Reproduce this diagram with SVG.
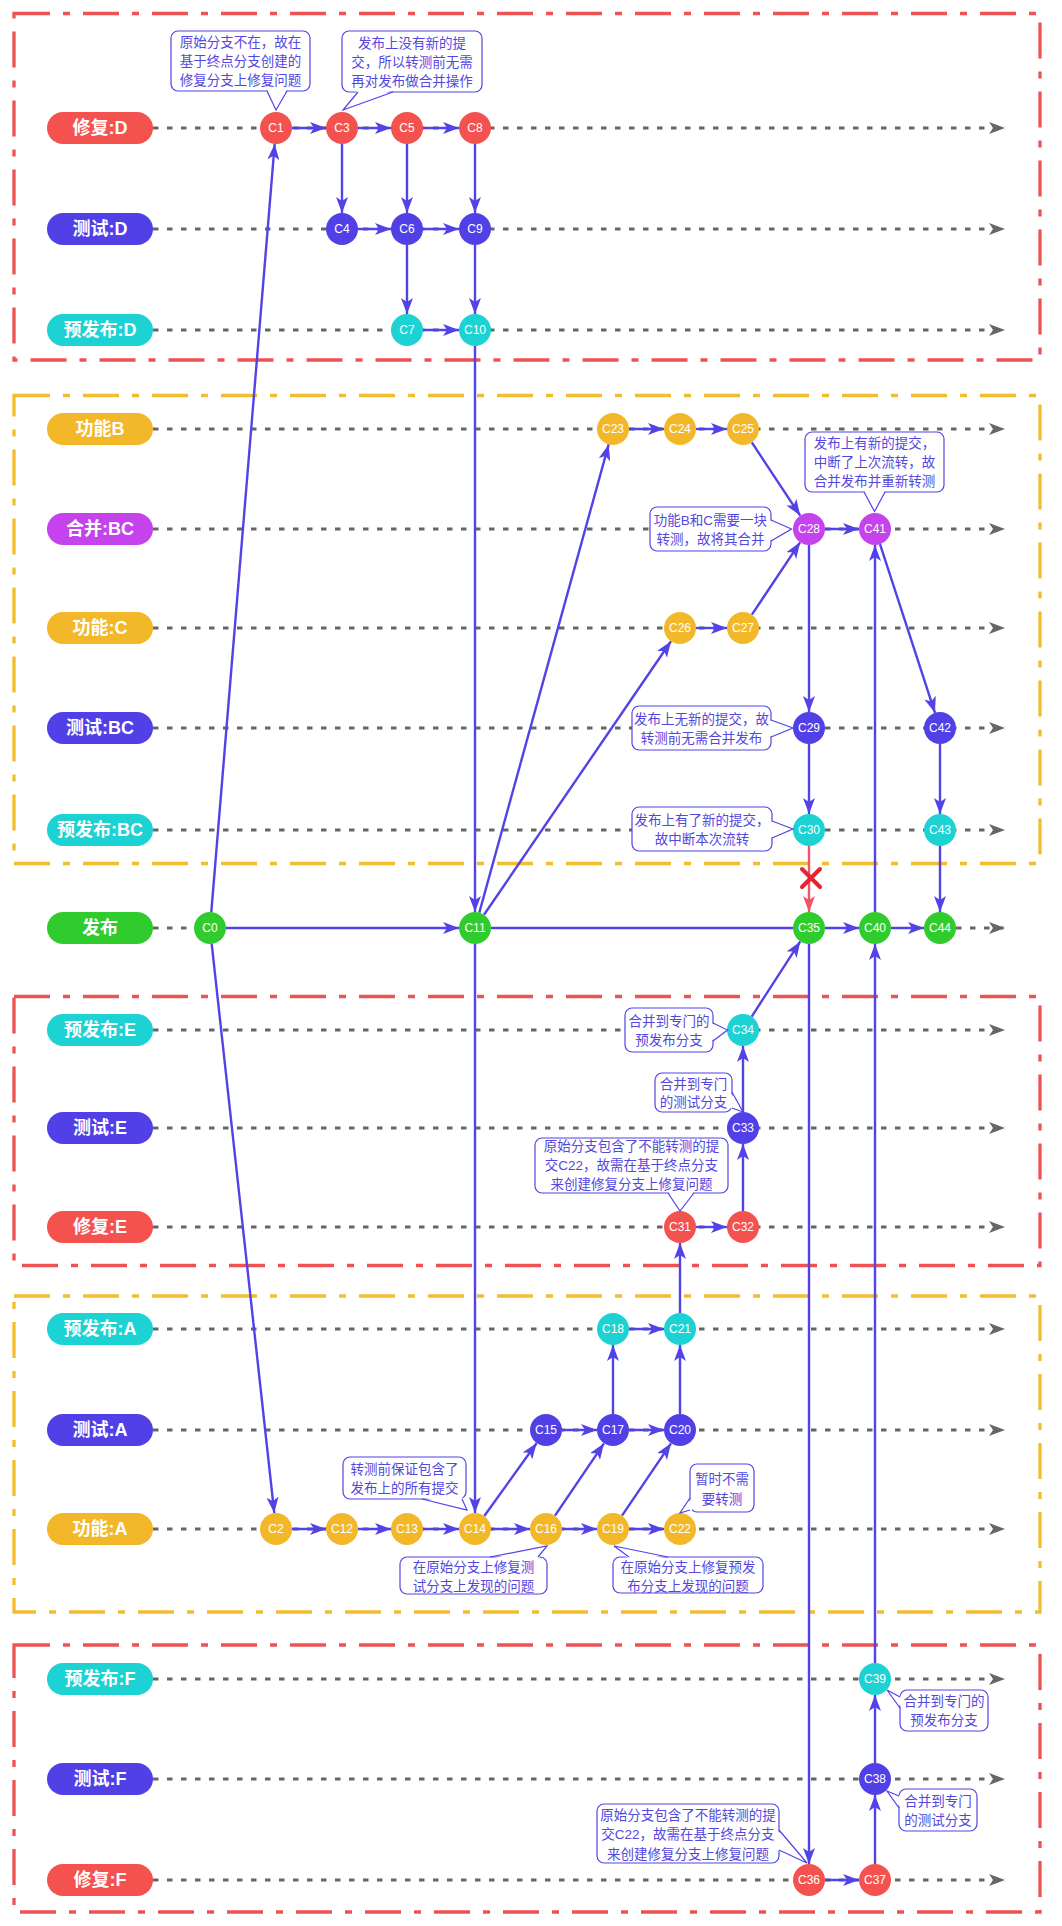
<svg xmlns="http://www.w3.org/2000/svg" width="1062" height="1926" viewBox="0 0 1062 1926">
<defs>
<marker id="a" markerUnits="userSpaceOnUse" viewBox="0 0 16 12" refX="16" refY="6" markerWidth="16" markerHeight="12" orient="auto"><path d="M0,0 L16,6 L0,12 L4,6 Z" fill="#5243E6"/></marker>
<marker id="ar" markerUnits="userSpaceOnUse" viewBox="0 0 16 12" refX="16" refY="6" markerWidth="16" markerHeight="12" orient="auto"><path d="M0,0 L16,6 L0,12 L4,6 Z" fill="#F25466"/></marker>
<marker id="g" markerUnits="userSpaceOnUse" viewBox="0 0 16 12" refX="16" refY="6" markerWidth="16" markerHeight="12" orient="auto"><path d="M0,0 L16,6 L0,12 L4,6 Z" fill="#666"/></marker>
</defs>
<style>
text{font-family:"Liberation Sans","Noto Sans CJK SC",sans-serif}
.box{fill:none;stroke-width:3.3;stroke-dasharray:36 13 7 13}
.bred{stroke:#EE5353}
.byel{stroke:#F2BD2F}
.lane{stroke:#666;stroke-width:2.8;stroke-dasharray:5.5 8.5;fill:none}
.lane-a{marker-end:url(#g)}
.e{stroke:#5243E6;stroke-width:2.4;fill:none;marker-end:url(#a)}
.pill text{fill:#fff;font-size:18px;font-weight:bold;text-anchor:middle;dominant-baseline:central}
.n text{fill:#fff;font-size:12px;text-anchor:middle;dominant-baseline:central}
.red{fill:#F3524F}
.blue{fill:#5040E6}
.cyan{fill:#1CD2D2}
.yel{fill:#F3B82A}
.pur{fill:#C443EC}
.grn{fill:#30CC2E}
.note rect{fill:#fff;stroke:#5243E6;stroke-width:1.2}
.note .pf{fill:#fff;stroke:none}
.note .ps{fill:none;stroke:#5243E6;stroke-width:1.2}
.note text{fill:#5447E0;font-size:13.5px;text-anchor:middle;dominant-baseline:central}
</style>
<rect width="1062" height="1926" fill="#fff"/>

<g id="groups">
<rect class="box bred" x="14" y="13.5" width="1026" height="346.5"/>
<rect class="box byel" x="14" y="395.5" width="1026" height="468"/>
<rect class="box bred" x="14" y="996.5" width="1026" height="269"/>
<rect class="box byel" x="14" y="1296" width="1026" height="316"/>
<rect class="box bred" x="14" y="1645" width="1026" height="267"/>
</g>

<g id="lanes">
<line class="lane lane-a" x1="153" y1="128" x2="1005" y2="128"/>
<line class="lane lane-a" x1="153" y1="229" x2="1005" y2="229"/>
<line class="lane lane-a" x1="153" y1="330" x2="1005" y2="330"/>
<line class="lane lane-a" x1="153" y1="429" x2="1005" y2="429"/>
<line class="lane lane-a" x1="153" y1="529" x2="1005" y2="529"/>
<line class="lane lane-a" x1="153" y1="628" x2="1005" y2="628"/>
<line class="lane lane-a" x1="153" y1="728" x2="1005" y2="728"/>
<line class="lane lane-a" x1="153" y1="830" x2="1005" y2="830"/>
<line class="lane" x1="153" y1="928" x2="194" y2="928"/>
<line class="lane lane-a" x1="956" y1="928" x2="1005" y2="928"/>
<line class="lane lane-a" x1="153" y1="1030" x2="1005" y2="1030"/>
<line class="lane lane-a" x1="153" y1="1128" x2="1005" y2="1128"/>
<line class="lane lane-a" x1="153" y1="1227" x2="1005" y2="1227"/>
<line class="lane lane-a" x1="153" y1="1329" x2="1005" y2="1329"/>
<line class="lane lane-a" x1="153" y1="1430" x2="1005" y2="1430"/>
<line class="lane lane-a" x1="153" y1="1529" x2="1005" y2="1529"/>
<line class="lane lane-a" x1="153" y1="1679" x2="1005" y2="1679"/>
<line class="lane lane-a" x1="153" y1="1779" x2="1005" y2="1779"/>
<line class="lane lane-a" x1="153" y1="1880" x2="1005" y2="1880"/>
</g>

<g id="connectors">
<line class="e" x1="211.3" y1="912.1" x2="274.7" y2="143.9"/>
<line class="e" x1="211.7" y1="943.9" x2="274.3" y2="1513.1"/>
<line class="e" x1="292" y1="128" x2="326" y2="128"/>
<line class="e" x1="358" y1="128" x2="391" y2="128"/>
<line class="e" x1="423" y1="128" x2="459" y2="128"/>
<line class="e" x1="358" y1="229" x2="391" y2="229"/>
<line class="e" x1="423" y1="229" x2="459" y2="229"/>
<line class="e" x1="423" y1="330" x2="459" y2="330"/>
<line class="e" x1="342" y1="144" x2="342" y2="213"/>
<line class="e" x1="407" y1="144" x2="407" y2="213"/>
<line class="e" x1="475" y1="144" x2="475" y2="213"/>
<line class="e" x1="407" y1="245" x2="407" y2="314"/>
<line class="e" x1="475" y1="245" x2="475" y2="314"/>
<line class="e" x1="475" y1="346" x2="475" y2="912"/>
<line class="e" x1="226" y1="928" x2="459" y2="928"/>
<line x1="491" y1="928" x2="793" y2="928" stroke="#5243E6" stroke-width="2.4"/>
<line class="e" x1="825" y1="928" x2="859" y2="928"/>
<line class="e" x1="891" y1="928" x2="924" y2="928"/>
<line class="e" x1="479.3" y1="912.6" x2="608.7" y2="444.4"/>
<line class="e" x1="484" y1="914.8" x2="671" y2="641.2"/>
<line class="e" x1="629" y1="429" x2="664" y2="429"/>
<line class="e" x1="696" y1="429" x2="727" y2="429"/>
<line class="e" x1="696" y1="628" x2="727" y2="628"/>
<line class="e" x1="751.8" y1="442.4" x2="800.2" y2="515.6"/>
<line class="e" x1="751.9" y1="614.7" x2="800.1" y2="542.3"/>
<line class="e" x1="825" y1="529" x2="859" y2="529"/>
<line class="e" x1="809" y1="545" x2="809" y2="712"/>
<line class="e" x1="809" y1="744" x2="809" y2="814"/>
<line x1="809" y1="846" x2="809" y2="912" stroke="#F25466" stroke-width="2.4" marker-end="url(#ar)"/>
<line class="e" x1="880" y1="544.2" x2="935" y2="712.8"/>
<line class="e" x1="940" y1="744" x2="940" y2="814"/>
<line class="e" x1="940" y1="846" x2="940" y2="912"/>
<line class="e" x1="875" y1="912" x2="875" y2="545"/>
<line class="e" x1="680" y1="1313" x2="680" y2="1243"/>
<line class="e" x1="696" y1="1227" x2="727" y2="1227"/>
<line class="e" x1="743" y1="1211" x2="743" y2="1144"/>
<line class="e" x1="743" y1="1112" x2="743" y2="1046"/>
<line class="e" x1="751.7" y1="1016.6" x2="800.3" y2="941.4"/>
<line class="e" x1="475" y1="944" x2="475" y2="1513"/>
<line class="e" x1="292" y1="1529" x2="326" y2="1529"/>
<line class="e" x1="358" y1="1529" x2="391" y2="1529"/>
<line class="e" x1="423" y1="1529" x2="459" y2="1529"/>
<line class="e" x1="491" y1="1529" x2="530" y2="1529"/>
<line class="e" x1="562" y1="1529" x2="597" y2="1529"/>
<line class="e" x1="629" y1="1529" x2="664" y2="1529"/>
<line class="e" x1="484.3" y1="1516" x2="536.7" y2="1443"/>
<line class="e" x1="555" y1="1515.7" x2="604" y2="1443.3"/>
<line class="e" x1="622" y1="1515.7" x2="671" y2="1443.3"/>
<line class="e" x1="562" y1="1430" x2="597" y2="1430"/>
<line class="e" x1="629" y1="1430" x2="664" y2="1430"/>
<line class="e" x1="613" y1="1414" x2="613" y2="1345"/>
<line class="e" x1="680" y1="1414" x2="680" y2="1345"/>
<line class="e" x1="629" y1="1329" x2="664" y2="1329"/>
<line class="e" x1="809" y1="944" x2="809" y2="1864"/>
<line class="e" x1="825" y1="1880" x2="859" y2="1880"/>
<line class="e" x1="875" y1="1864" x2="875" y2="1795"/>
<line class="e" x1="875" y1="1763" x2="875" y2="1695"/>
<line class="e" x1="875" y1="1663" x2="875" y2="944"/>
<g id="blocked" stroke="#E8222E" stroke-width="4" stroke-linecap="round">
<line x1="802" y1="869" x2="820" y2="887"/>
<line x1="820" y1="869" x2="802" y2="887"/>
</g>
</g>

<g id="labels">
<g id="lbl-fix-D" class="pill"><rect class="red" x="47" y="112" width="106" height="32" rx="16"/><text x="100" y="128">修复:D</text></g>
<g id="lbl-test-D" class="pill"><rect class="blue" x="47" y="213" width="106" height="32" rx="16"/><text x="100" y="229">测试:D</text></g>
<g id="lbl-pre-D" class="pill"><rect class="cyan" x="47" y="314" width="106" height="32" rx="16"/><text x="100" y="330">预发布:D</text></g>
<g id="lbl-feat-B" class="pill"><rect class="yel" x="47" y="413" width="106" height="32" rx="16"/><text x="100" y="429">功能B</text></g>
<g id="lbl-merge-BC" class="pill"><rect class="pur" x="47" y="513" width="106" height="32" rx="16"/><text x="100" y="529">合并:BC</text></g>
<g id="lbl-feat-C" class="pill"><rect class="yel" x="47" y="612" width="106" height="32" rx="16"/><text x="100" y="628">功能:C</text></g>
<g id="lbl-test-BC" class="pill"><rect class="blue" x="47" y="712" width="106" height="32" rx="16"/><text x="100" y="728">测试:BC</text></g>
<g id="lbl-pre-BC" class="pill"><rect class="cyan" x="47" y="814" width="106" height="32" rx="16"/><text x="100" y="830">预发布:BC</text></g>
<g id="lbl-release" class="pill"><rect class="grn" x="47" y="912" width="106" height="32" rx="16"/><text x="100" y="928">发布</text></g>
<g id="lbl-pre-E" class="pill"><rect class="cyan" x="47" y="1014" width="106" height="32" rx="16"/><text x="100" y="1030">预发布:E</text></g>
<g id="lbl-test-E" class="pill"><rect class="blue" x="47" y="1112" width="106" height="32" rx="16"/><text x="100" y="1128">测试:E</text></g>
<g id="lbl-fix-E" class="pill"><rect class="red" x="47" y="1211" width="106" height="32" rx="16"/><text x="100" y="1227">修复:E</text></g>
<g id="lbl-pre-A" class="pill"><rect class="cyan" x="47" y="1313" width="106" height="32" rx="16"/><text x="100" y="1329">预发布:A</text></g>
<g id="lbl-test-A" class="pill"><rect class="blue" x="47" y="1414" width="106" height="32" rx="16"/><text x="100" y="1430">测试:A</text></g>
<g id="lbl-feat-A" class="pill"><rect class="yel" x="47" y="1513" width="106" height="32" rx="16"/><text x="100" y="1529">功能:A</text></g>
<g id="lbl-pre-F" class="pill"><rect class="cyan" x="47" y="1663" width="106" height="32" rx="16"/><text x="100" y="1679">预发布:F</text></g>
<g id="lbl-test-F" class="pill"><rect class="blue" x="47" y="1763" width="106" height="32" rx="16"/><text x="100" y="1779">测试:F</text></g>
<g id="lbl-fix-F" class="pill"><rect class="red" x="47" y="1864" width="106" height="32" rx="16"/><text x="100" y="1880">修复:F</text></g>
</g>

<g id="commits">
<g id="C0" class="n"><circle class="grn" cx="210" cy="928" r="16"/><text x="210" y="928">C0</text></g>
<g id="C1" class="n"><circle class="red" cx="276" cy="128" r="16"/><text x="276" y="128">C1</text></g>
<g id="C3" class="n"><circle class="red" cx="342" cy="128" r="16"/><text x="342" y="128">C3</text></g>
<g id="C5" class="n"><circle class="red" cx="407" cy="128" r="16"/><text x="407" y="128">C5</text></g>
<g id="C8" class="n"><circle class="red" cx="475" cy="128" r="16"/><text x="475" y="128">C8</text></g>
<g id="C4" class="n"><circle class="blue" cx="342" cy="229" r="16"/><text x="342" y="229">C4</text></g>
<g id="C6" class="n"><circle class="blue" cx="407" cy="229" r="16"/><text x="407" y="229">C6</text></g>
<g id="C9" class="n"><circle class="blue" cx="475" cy="229" r="16"/><text x="475" y="229">C9</text></g>
<g id="C7" class="n"><circle class="cyan" cx="407" cy="330" r="16"/><text x="407" y="330">C7</text></g>
<g id="C10" class="n"><circle class="cyan" cx="475" cy="330" r="16"/><text x="475" y="330">C10</text></g>
<g id="C11" class="n"><circle class="grn" cx="475" cy="928" r="16"/><text x="475" y="928">C11</text></g>
<g id="C23" class="n"><circle class="yel" cx="613" cy="429" r="16"/><text x="613" y="429">C23</text></g>
<g id="C24" class="n"><circle class="yel" cx="680" cy="429" r="16"/><text x="680" y="429">C24</text></g>
<g id="C25" class="n"><circle class="yel" cx="743" cy="429" r="16"/><text x="743" y="429">C25</text></g>
<g id="C28" class="n"><circle class="pur" cx="809" cy="529" r="16"/><text x="809" y="529">C28</text></g>
<g id="C41" class="n"><circle class="pur" cx="875" cy="529" r="16"/><text x="875" y="529">C41</text></g>
<g id="C26" class="n"><circle class="yel" cx="680" cy="628" r="16"/><text x="680" y="628">C26</text></g>
<g id="C27" class="n"><circle class="yel" cx="743" cy="628" r="16"/><text x="743" y="628">C27</text></g>
<g id="C29" class="n"><circle class="blue" cx="809" cy="728" r="16"/><text x="809" y="728">C29</text></g>
<g id="C42" class="n"><circle class="blue" cx="940" cy="728" r="16"/><text x="940" y="728">C42</text></g>
<g id="C30" class="n"><circle class="cyan" cx="809" cy="830" r="16"/><text x="809" y="830">C30</text></g>
<g id="C43" class="n"><circle class="cyan" cx="940" cy="830" r="16"/><text x="940" y="830">C43</text></g>
<g id="C35" class="n"><circle class="grn" cx="809" cy="928" r="16"/><text x="809" y="928">C35</text></g>
<g id="C40" class="n"><circle class="grn" cx="875" cy="928" r="16"/><text x="875" y="928">C40</text></g>
<g id="C44" class="n"><circle class="grn" cx="940" cy="928" r="16"/><text x="940" y="928">C44</text></g>
<g id="C34" class="n"><circle class="cyan" cx="743" cy="1030" r="16"/><text x="743" y="1030">C34</text></g>
<g id="C33" class="n"><circle class="blue" cx="743" cy="1128" r="16"/><text x="743" y="1128">C33</text></g>
<g id="C31" class="n"><circle class="red" cx="680" cy="1227" r="16"/><text x="680" y="1227">C31</text></g>
<g id="C32" class="n"><circle class="red" cx="743" cy="1227" r="16"/><text x="743" y="1227">C32</text></g>
<g id="C18" class="n"><circle class="cyan" cx="613" cy="1329" r="16"/><text x="613" y="1329">C18</text></g>
<g id="C21" class="n"><circle class="cyan" cx="680" cy="1329" r="16"/><text x="680" y="1329">C21</text></g>
<g id="C15" class="n"><circle class="blue" cx="546" cy="1430" r="16"/><text x="546" y="1430">C15</text></g>
<g id="C17" class="n"><circle class="blue" cx="613" cy="1430" r="16"/><text x="613" y="1430">C17</text></g>
<g id="C20" class="n"><circle class="blue" cx="680" cy="1430" r="16"/><text x="680" y="1430">C20</text></g>
<g id="C2" class="n"><circle class="yel" cx="276" cy="1529" r="16"/><text x="276" y="1529">C2</text></g>
<g id="C12" class="n"><circle class="yel" cx="342" cy="1529" r="16"/><text x="342" y="1529">C12</text></g>
<g id="C13" class="n"><circle class="yel" cx="407" cy="1529" r="16"/><text x="407" y="1529">C13</text></g>
<g id="C14" class="n"><circle class="yel" cx="475" cy="1529" r="16"/><text x="475" y="1529">C14</text></g>
<g id="C16" class="n"><circle class="yel" cx="546" cy="1529" r="16"/><text x="546" y="1529">C16</text></g>
<g id="C19" class="n"><circle class="yel" cx="613" cy="1529" r="16"/><text x="613" y="1529">C19</text></g>
<g id="C22" class="n"><circle class="yel" cx="680" cy="1529" r="16"/><text x="680" y="1529">C22</text></g>
<g id="C39" class="n"><circle class="cyan" cx="875" cy="1679" r="16"/><text x="875" y="1679">C39</text></g>
<g id="C38" class="n"><circle class="blue" cx="875" cy="1779" r="16"/><text x="875" y="1779">C38</text></g>
<g id="C36" class="n"><circle class="red" cx="809" cy="1880" r="16"/><text x="809" y="1880">C36</text></g>
<g id="C37" class="n"><circle class="red" cx="875" cy="1880" r="16"/><text x="875" y="1880">C37</text></g>
</g>

<g id="notes">
<g id="note1" class="note"><rect x="171" y="31" width="139" height="60" rx="7"/><path class="pf" d="M267,89 L276,110 L287,89 Z"/><path class="ps" d="M267,91 L276,110 L287,91"/>
<text><tspan x="240.5" y="41.7">原始分支不在，故在</tspan><tspan x="240.5" y="61">基于终点分支创建的</tspan><tspan x="240.5" y="80.3">修复分支上修复问题</tspan></text></g>
<g id="note2" class="note"><rect x="342" y="31" width="140" height="61" rx="7"/><path class="pf" d="M358,90 L343,110 L393,90 Z"/><path class="ps" d="M358,92 L343,110 L393,92"/>
<text><tspan x="412" y="42.5">发布上没有新的提</tspan><tspan x="412" y="61.8">交，所以转测前无需</tspan><tspan x="412" y="81">再对发布做合并操作</tspan></text></g>
<g id="note3" class="note"><rect x="805" y="432" width="139" height="60" rx="7"/><path class="pf" d="M864,490 L874.5,511.5 L885,490 Z"/><path class="ps" d="M864,492 L874.5,511.5 L885,492"/>
<text><tspan x="874.5" y="442.7">发布上有新的提交，</tspan><tspan x="874.5" y="462">中断了上次流转，故</tspan><tspan x="874.5" y="481.3">合并发布并重新转测</tspan></text></g>
<g id="note4" class="note"><rect x="650" y="507" width="121" height="44" rx="7"/><path class="pf" d="M769,520 L791.5,529 L769,541 Z"/><path class="ps" d="M771,520 L791.5,529 L771,541"/>
<text><tspan x="710.5" y="519.8">功能B和C需要一块</tspan><tspan x="710.5" y="539">转测，故将其合并</tspan></text></g>
<g id="note5" class="note"><rect x="632" y="706" width="139" height="44" rx="7"/><path class="pf" d="M769,720 L793,728 L769,737 Z"/><path class="ps" d="M771,720 L793,728 L771,737"/>
<text><tspan x="701.5" y="718.8">发布上无新的提交，故</tspan><tspan x="701.5" y="738">转测前无需合并发布</tspan></text></g>
<g id="note6" class="note"><rect x="632" y="807" width="140" height="44" rx="7"/><path class="pf" d="M770,821 L793,829 L770,838 Z"/><path class="ps" d="M772,821 L793,829 L772,838"/>
<text><tspan x="702" y="820">发布上有了新的提交，</tspan><tspan x="702" y="839">故中断本次流转</tspan></text></g>
<g id="note7" class="note"><rect x="625" y="1008" width="88" height="44" rx="7"/><path class="pf" d="M711,1023 L727.5,1030 L711,1041 Z"/><path class="ps" d="M713,1023 L727.5,1030 L713,1041"/>
<text><tspan x="669" y="1021">合并到专门的</tspan><tspan x="669" y="1040">预发布分支</tspan></text></g>
<g id="note8" class="note"><rect x="655" y="1073" width="77" height="39" rx="7"/><path class="pf" d="M730,1092 L743,1112 L730,1108 Z"/><path class="ps" d="M732,1092 L743,1112 L732,1108"/>
<text><tspan x="693.5" y="1083.5">合并到专门</tspan><tspan x="693.5" y="1102.3">的测试分支</tspan></text></g>
<g id="note9" class="note"><rect x="535" y="1138" width="193" height="55" rx="7"/><path class="pf" d="M668,1191 L680,1211 L694,1191 Z"/><path class="ps" d="M668,1193 L680,1211 L694,1193"/>
<text><tspan x="631.5" y="1146">原始分支包含了不能转测的提</tspan><tspan x="631.5" y="1165">交C22，故需在基于终点分支</tspan><tspan x="631.5" y="1184">来创建修复分支上修复问题</tspan></text></g>
<g id="note10" class="note"><rect x="343" y="1457" width="123" height="42" rx="7"/><path class="pf" d="M422,1497 L467,1510 L462,1497 Z"/><path class="ps" d="M422,1499 L467,1510 L462,1499"/>
<text><tspan x="404.5" y="1468.5">转测前保证包含了</tspan><tspan x="404.5" y="1487.5">发布上的所有提交</tspan></text></g>
<g id="note11" class="note"><rect x="400" y="1557" width="147" height="37" rx="7"/><path class="pf" d="M490,1559 L547,1546 L538,1559 Z"/><path class="ps" d="M490,1557 L547,1546 L538,1557"/>
<text><tspan x="473.5" y="1566.5">在原始分支上修复测</tspan><tspan x="473.5" y="1585.5">试分支上发现的问题</tspan></text></g>
<g id="note12" class="note"><rect x="613" y="1557" width="150" height="36" rx="7"/><path class="pf" d="M629,1559 L614,1546 L668,1559 Z"/><path class="ps" d="M629,1557 L614,1546 L668,1557"/>
<text><tspan x="688" y="1566.5">在原始分支上修复预发</tspan><tspan x="688" y="1585.5">布分支上发现的问题</tspan></text></g>
<g id="note13" class="note"><rect x="690" y="1464" width="64" height="48" rx="7"/><path class="pf" d="M692,1498 L680,1513 L692,1510 Z"/><path class="ps" d="M690,1498 L680,1513 L690,1510"/>
<text><tspan x="722" y="1479">暂时不需</tspan><tspan x="722" y="1498.5">要转测</tspan></text></g>
<g id="note14" class="note"><rect x="900" y="1690" width="88" height="41" rx="7"/><path class="pf" d="M902,1697 L887,1690 L902,1708 Z"/><path class="ps" d="M900,1697 L887,1690 L900,1708"/>
<text><tspan x="944" y="1701">合并到专门的</tspan><tspan x="944" y="1720">预发布分支</tspan></text></g>
<g id="note15" class="note"><rect x="899" y="1789" width="78" height="42" rx="7"/><path class="pf" d="M901,1796 L887,1791 L901,1808 Z"/><path class="ps" d="M899,1796 L887,1791 L899,1808"/>
<text><tspan x="938" y="1800.5">合并到专门</tspan><tspan x="938" y="1820">的测试分支</tspan></text></g>
<g id="note16" class="note"><rect x="597" y="1804" width="182" height="59" rx="7"/><path class="pf" d="M777,1830 L807,1863 L777,1850 Z"/><path class="ps" d="M779,1830 L807,1863 L779,1850"/>
<text><tspan x="688" y="1814.5">原始分支包含了不能转测的提</tspan><tspan x="688" y="1834">交C22，故需在基于终点分支</tspan><tspan x="688" y="1853.5">来创建修复分支上修复问题</tspan></text></g>
</g>
</svg>
